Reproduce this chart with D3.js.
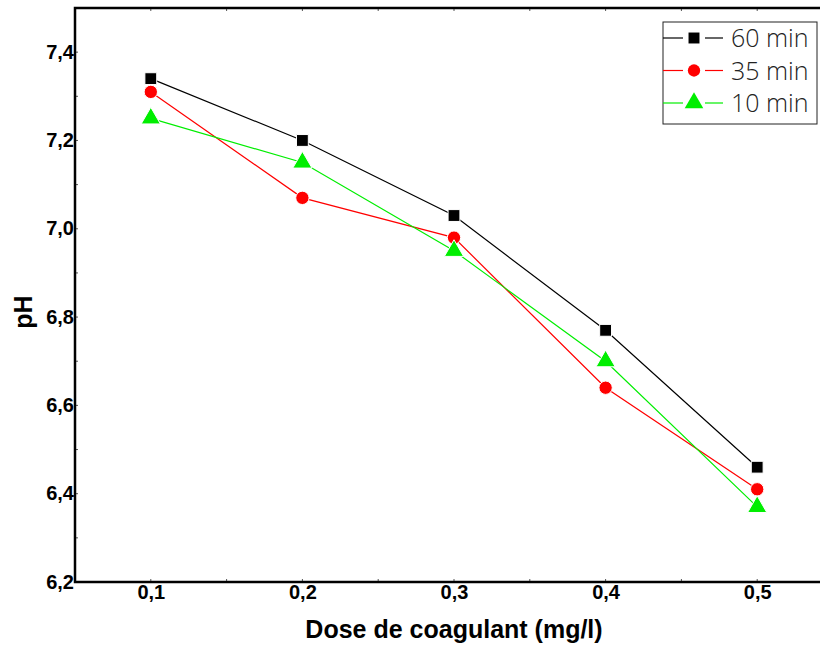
<!DOCTYPE html>
<html>
<head>
<meta charset="utf-8">
<script src="https://cdn.jsdelivr.net/npm/d3@7"></script>
<style>
  body { margin: 0; background: #fff; }
  svg { display: block; }
</style>
</head>
<body>
<div id="wrapper"></div>
<script>
const doses = [0.1, 0.2, 0.3, 0.4, 0.5];
const ph60 = [7.34, 7.2, 7.03, 6.77, 6.46];
const ph35 = [7.31, 7.07, 6.98, 6.64, 6.41];
const ph10 = [7.25, 7.15, 6.95, 6.7, 6.37];
const xTicks = [0.1, 0.2, 0.3, 0.4, 0.5];
const yTicks = [6.2, 6.4, 6.6, 6.8, 7.0, 7.2, 7.4];

const series = [
  { name: "60 min", values: ph60, color: "#000000", symbol: d3.symbolSquare },
  { name: "35 min", values: ph35, color: "#ff0000", symbol: d3.symbolCircle },
  { name: "10 min", values: ph10, color: "#00ee00", symbol: d3.symbolTriangle },
];

function drawChart() {
  const dimensions = { width: 820, height: 650 };
  const bounds = { left: 75, top: 8, right: 833, bottom: 582 };

  const svg = d3
    .select("#wrapper")
    .append("svg")
    .attr("width", dimensions.width)
    .attr("height", dimensions.height);

  const x = d3.scaleLinear().domain([0.05, 0.55]).range([bounds.left, bounds.right]);
  const y = d3.scaleLinear().domain([6.2, 7.5]).range([bounds.bottom, bounds.top]);

  const fmt = (d) => d3.format(".1f")(d).replace(".", ",");

  // axes
  const xAxis = svg
    .append("g")
    .attr("transform", `translate(0,${bounds.bottom})`)
    .call(d3.axisBottom(x).tickValues(xTicks).tickSize(0).tickPadding(3).tickFormat(fmt));
  const yAxis = svg
    .append("g")
    .attr("transform", `translate(${bounds.left},0)`)
    .call(d3.axisLeft(y).tickValues(yTicks).tickSize(0).tickPadding(1).tickFormat(fmt));

  [xAxis, yAxis].forEach((g) => {
    g.select(".domain").remove();
    g.selectAll("text")
      .attr("font-family", "Liberation Sans, Arial, sans-serif")
      .attr("font-weight", "bold")
      .attr("font-size", 20)
      .attr("fill", "#000");
  });
  yAxis.selectAll("text").attr("dy", "0.3em");

  // small inward ticks (major + minor)
  const xMinor = d3.range(0.1, 0.56, 0.05);
  const yMinor = d3.range(6.3, 7.45, 0.2);
  svg.append("g").selectAll("line").data(xMinor).join("line")
    .attr("x1", (d) => x(d)).attr("x2", (d) => x(d))
    .attr("y1", bounds.bottom).attr("y2", bounds.bottom - 3)
    .attr("stroke", "#555").attr("stroke-width", 1);
  svg.append("g").selectAll("line").data(xMinor).join("line")
    .attr("x1", (d) => x(d)).attr("x2", (d) => x(d))
    .attr("y1", bounds.top).attr("y2", bounds.top + 3)
    .attr("stroke", "#555").attr("stroke-width", 1);
  svg.append("g").selectAll("line").data(yMinor.concat(yTicks)).join("line")
    .attr("x1", bounds.left).attr("x2", bounds.left + 3)
    .attr("y1", (d) => y(d)).attr("y2", (d) => y(d))
    .attr("stroke", "#555").attr("stroke-width", 1);

  // frame
  svg.append("rect")
    .attr("x", bounds.left)
    .attr("y", bounds.top)
    .attr("width", bounds.right - bounds.left)
    .attr("height", bounds.bottom - bounds.top)
    .attr("fill", "none")
    .attr("stroke", "#000")
    .attr("stroke-width", 2.5);

  // series
  const line = d3.line().x((d, i) => x(doses[i])).y((d) => y(d));
  series.forEach((s) => {
    svg.append("path")
      .datum(s.values)
      .attr("d", line)
      .attr("fill", "none")
      .attr("stroke", s.color)
      .attr("stroke-width", 1.2);
    svg.append("g")
      .selectAll("path")
      .data(s.values)
      .join("path")
      .attr("transform", (d, i) => `translate(${x(doses[i])},${y(d)})`)
      .attr("d", d3.symbol().type(s.symbol).size(s.symbol === d3.symbolTriangle ? 160 : 140))
      .attr("fill", s.color)
      .attr("stroke", "#fff")
      .attr("stroke-width", 1);
  });

  // axis titles
  svg.append("text")
    .attr("x", 454)
    .attr("y", 638)
    .attr("text-anchor", "middle")
    .attr("font-family", "Liberation Sans, Arial, sans-serif")
    .attr("font-weight", "bold")
    .attr("font-size", 25)
    .text("Dose de coagulant (mg/l)");
  svg.append("text")
    .attr("transform", "translate(32,312) rotate(-90)")
    .attr("text-anchor", "middle")
    .attr("font-family", "Liberation Sans, Arial, sans-serif")
    .attr("font-weight", "bold")
    .attr("font-size", 25)
    .text("pH");

  // legend
  const legend = svg.append("g").attr("transform", "translate(663,22)");
  legend.append("rect")
    .attr("width", 154)
    .attr("height", 102)
    .attr("fill", "#fff")
    .attr("stroke", "#222")
    .attr("stroke-width", 1);
  series.forEach((s, i) => {
    const row = legend.append("g").attr("transform", `translate(0,${16 + i * 32.5})`);
    row.append("line").attr("x1", 0).attr("x2", 20).attr("stroke", s.color).attr("stroke-width", 1.2);
    row.append("line").attr("x1", 42).attr("x2", 60).attr("stroke", s.color).attr("stroke-width", 1.2);
    row.append("path")
      .attr("transform", "translate(31,0)")
      .attr("d", d3.symbol().type(s.symbol).size(s.symbol === d3.symbolTriangle ? 150 : 120))
      .attr("fill", s.color);
    row.append("text")
      .attr("x", 68)
      .attr("dy", "0.36em")
      .attr("font-family", "Open Sans, sans-serif")
      .attr("font-weight", 300)
      .attr("font-size", 25)
      .attr("fill", "#222")
      .text(s.name);
  });
}

drawChart();
</script>
</body>
</html>
